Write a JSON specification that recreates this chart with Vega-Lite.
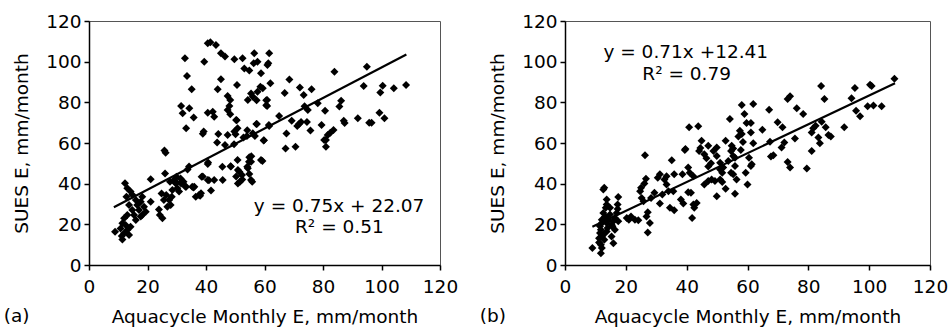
{
  "$schema": "https://vega.github.io/schema/vega-lite/v6.json",
  "background": "white",
  "padding": {"left": 3, "top": 11, "right": 1, "bottom": 1},
  "spacing": 20,
  "config": {
    "font": "DejaVu Sans",
    "view": {"stroke": "#555", "strokeWidth": 1},
    "axis": {"grid": false, "labelFlush": false, "domainColor": "black", "domainWidth": 1.5, "tickColor": "black", "tickWidth": 1.5, "tickSize": 5, "labelFont": "DejaVu Sans", "labelFontSize": 18.5, "labelColor": "black", "titleFont": "DejaVu Sans", "titleFontSize": 18.5, "titleFontWeight": "normal", "titleColor": "black", "labelPadding": 3},
    "axisY": {"titlePadding": 14},
    "axisX": {"labelPadding": 7, "titlePadding": 12},
    "title": {"font": "DejaVu Sans", "fontSize": 18.5, "fontWeight": "normal", "color": "black"}
  },
  "datasets": {
    "a_points": [
      {"x":8.9,"y":16.4},{"x":11.4,"y":12.6},{"x":12.3,"y":40.2},{"x":13.1,"y":37.7},{"x":12.8,"y":33.6},{"x":14.2,"y":36.1},{"x":14.8,"y":34.5},{"x":16,"y":32},{"x":13.7,"y":29.5},{"x":14.8,"y":27.1},{"x":16.5,"y":29.5},{"x":17.7,"y":31.1},{"x":18.2,"y":33.6},{"x":17.1,"y":27.1},{"x":15.4,"y":24.6},{"x":13.1,"y":24.6},{"x":12,"y":23},{"x":11.4,"y":20.5},{"x":12.5,"y":19.7},{"x":10.8,"y":18},{"x":13.1,"y":17.2},{"x":12,"y":15.6},{"x":13.7,"y":14.8},{"x":11.2,"y":14.3},{"x":14.2,"y":18.8},{"x":16,"y":22.1},{"x":17.7,"y":23.8},{"x":18.2,"y":24.6},{"x":18.8,"y":28.7},{"x":19.4,"y":26.2},{"x":21.1,"y":31.1},{"x":21.1,"y":42.2},{"x":23.9,"y":27.3},{"x":25.1,"y":23},{"x":24.2,"y":24.6},{"x":26.2,"y":55.2},{"x":25.8,"y":56.3},{"x":26,"y":45},{"x":24.8,"y":35.2},{"x":26.4,"y":34.4},{"x":27.4,"y":32},{"x":26.8,"y":28.7},{"x":27.9,"y":29.5},{"x":28.5,"y":36.9},{"x":29.1,"y":41.8},{"x":29.6,"y":40.2},{"x":30.2,"y":37.7},{"x":30.8,"y":36.1},{"x":31.9,"y":41},{"x":33,"y":38.5},{"x":34.2,"y":48.4},{"x":35.3,"y":38.5},{"x":36.5,"y":33.6},{"x":37.6,"y":34.4},{"x":31.3,"y":42.6},{"x":29.9,"y":43.4},{"x":28.3,"y":33.6},{"x":25.6,"y":32},
      {"x":31.5,"y":40.1},{"x":33.2,"y":38.5},{"x":36,"y":38.5},{"x":38.3,"y":35.3},{"x":38,"y":34},{"x":41.7,"y":36.6},{"x":38.9,"y":43.5},{"x":40.6,"y":41.8},{"x":42.8,"y":41.8},{"x":45.7,"y":41.8},{"x":40.6,"y":49.7},{"x":48.5,"y":48.4},{"x":50.8,"y":51.6},{"x":54.8,"y":53},{"x":55.4,"y":50.8},{"x":54.3,"y":47.6},{"x":51.4,"y":45.9},{"x":52.3,"y":44.3},{"x":50.3,"y":43.5},{"x":54.8,"y":44.8},{"x":55.4,"y":41.8},{"x":58.8,"y":51.6},{"x":49.6,"y":59.4},{"x":52.8,"y":62.7},{"x":54.1,"y":66.3},
      {"x":43.8,"y":60.2},{"x":46.5,"y":59},{"x":44.2,"y":64.4},{"x":47.4,"y":63.9},{"x":49.7,"y":65.6},{"x":50.8,"y":67.2},{"x":50.3,"y":71.3},{"x":54,"y":63.5},{"x":56,"y":64.8},{"x":57.4,"y":69.4},{"x":59.7,"y":61.2},{"x":61.6,"y":68.4},{"x":65,"y":73.3},{"x":39.2,"y":65.6},{"x":38.9,"y":64.5},{"x":33.2,"y":67.2},
      {"x":31.5,"y":78.2},{"x":32,"y":74.6},{"x":34.3,"y":77.1},{"x":35.8,"y":72.6},{"x":40.6,"y":74.9},{"x":42.3,"y":75.4},{"x":42.8,"y":72.9},{"x":47.4,"y":76.2},{"x":48.3,"y":74.2},{"x":48,"y":78.2},{"x":47.4,"y":83.1},{"x":48.3,"y":81.2},{"x":54.3,"y":81.2},{"x":55.4,"y":84.4},{"x":56,"y":82.8},{"x":57.6,"y":85.2},{"x":58.6,"y":87.7},{"x":59.4,"y":86.9},{"x":60.9,"y":81.2},{"x":60.9,"y":78.2},{"x":62,"y":89.4},
      {"x":32.8,"y":101.7},{"x":39.4,"y":100},{"x":40.6,"y":109},{"x":41.5,"y":109.5},{"x":43.4,"y":108.2},{"x":45.1,"y":104.1},{"x":46.5,"y":102.5},{"x":49.7,"y":101.2},{"x":52.5,"y":101.7},{"x":53.1,"y":96.7},{"x":54.8,"y":95.6},{"x":56.5,"y":104.1},{"x":57.6,"y":100},{"x":56.3,"y":99.2},{"x":61.3,"y":99.2},{"x":61.6,"y":104.1},{"x":61,"y":98.3},{"x":58.8,"y":94.3},{"x":33.5,"y":93},{"x":45.1,"y":91.3},{"x":35.1,"y":86.4},{"x":44,"y":86.4},{"x":50.6,"y":88.5},
      {"x":66.9,"y":84.6},{"x":68.5,"y":91.2},{"x":72.1,"y":87.3},{"x":67.2,"y":57.3},{"x":70.6,"y":58.1},{"x":67.5,"y":64.7},{"x":69.3,"y":70.9},{"x":71.2,"y":68.3},{"x":71.8,"y":69.3},{"x":73.4,"y":83.6},{"x":73.7,"y":78.1},{"x":74.8,"y":76.2},{"x":76.1,"y":86.4},{"x":78.2,"y":79.5},{"x":80.7,"y":75.9},{"x":72.5,"y":70.3},{"x":74.5,"y":70.3},{"x":75.7,"y":66.1},{"x":79.5,"y":68.9},{"x":81,"y":61.5},{"x":81.6,"y":63.9},{"x":82.5,"y":65},{"x":83.6,"y":66.4},{"x":81,"y":58.2},{"x":80.4,"y":61.5},{"x":83.9,"y":95.1},{"x":86.2,"y":80.8},{"x":85.6,"y":77.9},{"x":87.1,"y":71},{"x":87.4,"y":69.8},{"x":91.9,"y":72.2},{"x":95,"y":97.5},{"x":93.9,"y":88},{"x":95.8,"y":70},{"x":96.6,"y":70},{"x":99.3,"y":74.9},{"x":99.6,"y":84.8},{"x":100.4,"y":88.2},{"x":101,"y":72.2},{"x":104.2,"y":86.9},{"x":108.4,"y":88.5},
      {"x":27.7,"y":40.9},{"x":30,"y":40.4},{"x":32.3,"y":40.9},{"x":33.7,"y":47},{"x":35.7,"y":38.1},{"x":38.5,"y":43.4},{"x":40.7,"y":50.4},{"x":41,"y":41.7},{"x":45.6,"y":48.3},{"x":48.4,"y":48.6},{"x":50.9,"y":46.7},{"x":50.9,"y":40.1},{"x":51.6,"y":40.9},{"x":52.4,"y":42.1},{"x":54.1,"y":48.3},{"x":54.7,"y":50.8},{"x":55.5,"y":53.5},{"x":55.8,"y":40.9},{"x":59.3,"y":51.2},{"x":50.1,"y":64.3},{"x":50.5,"y":71.2},{"x":61.5,"y":68.8},{"x":56.7,"y":63.4},{"x":59.8,"y":61.4},{"x":57.2,"y":69.3},{"x":57.3,"y":81},{"x":60.6,"y":81},{"x":60.6,"y":78.6}
    ],
    "b_points": [
      {"x":108.3,"y":91.6},{"x":100.3,"y":88.6},{"x":100.8,"y":88},{"x":95.3,"y":87},{"x":94.2,"y":82},{"x":95.7,"y":75.9},{"x":97,"y":73.1},{"x":99.5,"y":78.1},{"x":101.4,"y":78.4},{"x":104.1,"y":78.1},{"x":84.2,"y":88},{"x":85.3,"y":81.7},{"x":73.2,"y":81.7},{"x":74,"y":83},{"x":76.2,"y":77.1},{"x":78.3,"y":74.3},{"x":67.1,"y":76.3},{"x":69.9,"y":70.2},{"x":71.5,"y":67.7},{"x":75.6,"y":62.2},{"x":72.1,"y":60.3},{"x":71.2,"y":57.8},{"x":67.4,"y":60.6},{"x":67.7,"y":53.3},{"x":68.5,"y":54},{"x":73.2,"y":50.7},{"x":74,"y":47.9},{"x":79.5,"y":47.4},{"x":81.1,"y":56.1},{"x":81.1,"y":65.2},{"x":81.6,"y":67.2},{"x":82.4,"y":68.5},{"x":83.3,"y":62.7},{"x":83.8,"y":59.9},{"x":84.4,"y":70.5},{"x":85.7,"y":67.7},{"x":86.6,"y":63.9},{"x":87.4,"y":63.2},{"x":91.8,"y":67.7},{"x":64.9,"y":66.5},{"x":61.9,"y":79.2},{"x":58.1,"y":78.7},{"x":61.1,"y":69.8},{"x":59.7,"y":69.8},{"x":61.1,"y":65.2},{"x":61.9,"y":59.9},{"x":59,"y":74.3},{"x":57.5,"y":66},{"x":58.1,"y":64.4},{"x":57,"y":63.2},{"x":54.2,"y":71.8},{"x":52.8,"y":61.1},{"x":54.8,"y":58.6},{"x":54.6,"y":56.1},{"x":55.3,"y":57.3},{"x":55.3,"y":53.6},{"x":53.7,"y":51.2},{"x":55.9,"y":52.8},{"x":60.5,"y":52.8},{"x":61.4,"y":49.5},{"x":61.1,"y":48.7},{"x":59.4,"y":45.4},{"x":60,"y":39.6},{"x":55.9,"y":48.7},{"x":55.3,"y":44.6},{"x":56.4,"y":42.1},{"x":55.9,"y":35},{"x":54.6,"y":45.4},{"x":52.8,"y":37.5},{"x":51.7,"y":40.8},{"x":51,"y":42.1},{"x":51.7,"y":45.4},{"x":51,"y":47},{"x":49.3,"y":41.3},{"x":49.9,"y":33.8},{"x":48.2,"y":42.1},{"x":49.9,"y":53.6},{"x":51,"y":50.3},{"x":48.8,"y":56.1},{"x":47.1,"y":58.6},{"x":45.8,"y":54.5},{"x":44.1,"y":56.1},{"x":44.9,"y":61.1},{"x":43.8,"y":68.2},{"x":40.8,"y":67.7},{"x":45.8,"y":39.6},{"x":47.1,"y":41.3},{"x":48,"y":50},{"x":49.9,"y":57.8},{"x":47.1,"y":48.4},{"x":39.6,"y":57},{"x":39.4,"y":56.6},{"x":40.5,"y":47.9},{"x":41,"y":45.4},{"x":38.6,"y":44.6},{"x":40.5,"y":35.8},{"x":41.4,"y":35.5},{"x":38.1,"y":32.2},{"x":38.9,"y":30.2},{"x":42.2,"y":29.7},{"x":43.3,"y":30.5},{"x":42.5,"y":28.1},{"x":41.8,"y":23.1},{"x":42.2,"y":43.7},{"x":35.6,"y":36.3},{"x":35.9,"y":44.6},{"x":35.1,"y":51.5},{"x":32.7,"y":42.1},{"x":33.4,"y":39.6},{"x":34,"y":36.3},{"x":32,"y":34.7},{"x":31.2,"y":30.2},{"x":34.5,"y":28.1},{"x":35.9,"y":26.9},{"x":30.5,"y":42.9},{"x":29.4,"y":35.5},{"x":28.3,"y":33},{"x":27.9,"y":20.6},{"x":27.2,"y":16},{"x":26.3,"y":54},{"x":26.6,"y":42.4},{"x":26.1,"y":40.1},{"x":25,"y":38},{"x":24.7,"y":36.3},{"x":25.2,"y":33},{"x":25.8,"y":31.4},{"x":27.2,"y":25.9},{"x":26.8,"y":23.9},{"x":24.1,"y":22},{"x":23,"y":22.3},{"x":21.7,"y":23.9},{"x":21,"y":22.3},{"x":20.3,"y":23.1},{"x":17.5,"y":33.5},{"x":17.3,"y":29.7},{"x":17.3,"y":27.6},{"x":17,"y":25.6},{"x":16.4,"y":23.1},{"x":15.9,"y":21.5},{"x":15.6,"y":19},{"x":15.3,"y":14},{"x":15.9,"y":10.7},{"x":12.9,"y":38},{"x":12.6,"y":37.1},{"x":13.7,"y":29.7},{"x":13.4,"y":28.1},{"x":12.6,"y":25.6},{"x":13.2,"y":23.9},{"x":12.1,"y":22.3},{"x":12.1,"y":20.6},{"x":11.5,"y":19},{"x":11.8,"y":17.3},{"x":11.5,"y":15.7},{"x":12.1,"y":14},{"x":11.2,"y":13.2},{"x":12.6,"y":14.9},{"x":11.8,"y":9.9},{"x":11.8,"y":5.8},{"x":9,"y":8.3},{"x":13.7,"y":20.6},{"x":14,"y":18.2},{"x":14.2,"y":22.3},{"x":14.8,"y":24.8},{"x":12.9,"y":12.4},{"x":11.2,"y":11.1},{"x":12.1,"y":8.3},{"x":13.7,"y":16.5},{"x":15.3,"y":19.8},{"x":16.4,"y":17.3},{"x":17.5,"y":21.5},{"x":14.8,"y":28.1},{"x":13.7,"y":32.2},{"x":33.4,"y":43.7},{"x":31.2,"y":44.6},{"x":44.5,"y":57.5},{"x":46.5,"y":52.5},{"x":52,"y":48},{"x":57.8,"y":56.5},{"x":58.5,"y":60.5}
    ],
    "a_line": [{"x":8.5,"y":28.4},{"x":108.5,"y":103.5}],
    "b_line": [{"x":9,"y":18.8},{"x":108.5,"y":89.4}]
  },
  "hconcat": [
    {
      "width": 351,
      "height": 244,
      "title": {"text": "(a)", "orient": "bottom", "anchor": "start", "frame": "bounds", "offset": 0, "dy": -19, "dx": -9},
      "layer": [
        {
          "data": {"name": "a_points"},
          "mark": {"type": "point", "shape": "diamond", "filled": true, "color": "black", "size": 64, "opacity": 1},
          "encoding": {
            "x": {"field": "x", "type": "quantitative", "scale": {"domain": [0, 120], "nice": false}, "axis": {"values": [0, 20, 40, 60, 80, 100, 120], "title": "Aquacycle Monthly E, mm/month"}},
            "y": {"field": "y", "type": "quantitative", "scale": {"domain": [0, 120], "nice": false}, "axis": {"values": [0, 20, 40, 60, 80, 100, 120], "title": "SUES E, mm/month"}}
          }
        },
        {
          "data": {"name": "a_line"},
          "mark": {"type": "line", "color": "black", "strokeWidth": 2.2},
          "encoding": {"x": {"field": "x", "type": "quantitative"}, "y": {"field": "y", "type": "quantitative"}}
        },
        {
          "data": {"values": [{}]},
          "mark": {"type": "text", "fontSize": 18.5, "font": "DejaVu Sans", "color": "black"},
          "encoding": {"x": {"datum": 85.5, "type": "quantitative"}, "y": {"datum": 29.2, "type": "quantitative"}, "text": {"value": "y = 0.75x + 22.07"}}
        },
        {
          "data": {"values": [{}]},
          "mark": {"type": "text", "fontSize": 18.5, "font": "DejaVu Sans", "color": "black"},
          "encoding": {"x": {"datum": 85.6, "type": "quantitative"}, "y": {"datum": 18.8, "type": "quantitative"}, "text": {"value": "R² = 0.51"}}
        }
      ]
    },
    {
      "width": 365,
      "height": 244,
      "title": {"text": "(b)", "orient": "bottom", "anchor": "start", "frame": "bounds", "offset": 0, "dy": -19, "dx": -9},
      "layer": [
        {
          "data": {"name": "b_points"},
          "mark": {"type": "point", "shape": "diamond", "filled": true, "color": "black", "size": 64, "opacity": 1},
          "encoding": {
            "x": {"field": "x", "type": "quantitative", "scale": {"domain": [0, 120], "nice": false}, "axis": {"values": [0, 20, 40, 60, 80, 100, 120], "title": "Aquacycle Monthly E, mm/month"}},
            "y": {"field": "y", "type": "quantitative", "scale": {"domain": [0, 120], "nice": false}, "axis": {"values": [0, 20, 40, 60, 80, 100, 120], "title": "SUES E, mm/month"}}
          }
        },
        {
          "data": {"name": "b_line"},
          "mark": {"type": "line", "color": "black", "strokeWidth": 2.2},
          "encoding": {"x": {"field": "x", "type": "quantitative"}, "y": {"field": "y", "type": "quantitative"}}
        },
        {
          "data": {"values": [{}]},
          "mark": {"type": "text", "fontSize": 18.5, "font": "DejaVu Sans", "color": "black"},
          "encoding": {"x": {"datum": 39.7, "type": "quantitative"}, "y": {"datum": 104.8, "type": "quantitative"}, "text": {"value": "y = 0.71x +12.41"}}
        },
        {
          "data": {"values": [{}]},
          "mark": {"type": "text", "fontSize": 18.5, "font": "DejaVu Sans", "color": "black"},
          "encoding": {"x": {"datum": 40, "type": "quantitative"}, "y": {"datum": 94.1, "type": "quantitative"}, "text": {"value": "R² = 0.79"}}
        }
      ]
    }
  ]
}
